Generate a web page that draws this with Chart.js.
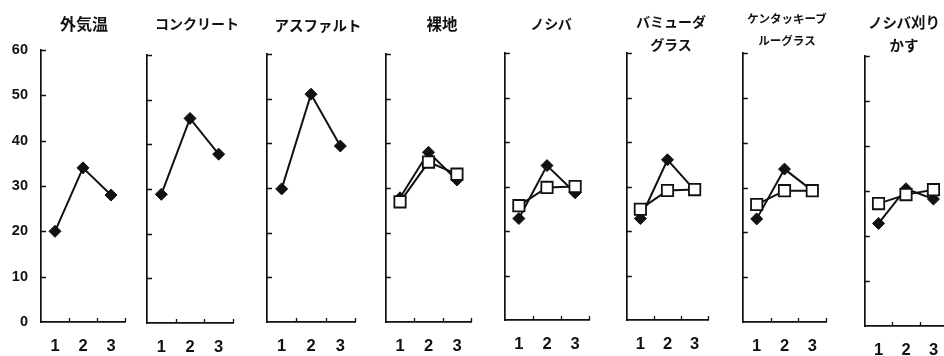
<!DOCTYPE html>
<html>
<head>
<meta charset="utf-8">
<script src="https://cdn.jsdelivr.net/npm/chart.js@4"></script>
<style>
  html, body { margin: 0; padding: 0; background: #fff; }
  body { position: relative; width: 944px; height: 356px; overflow: hidden;
         font-family: "Noto Sans CJK JP", "Noto Sans", sans-serif; }
  canvas { position: absolute; top: 0; }
  .ttl { position: absolute; transform: translateX(-50%); white-space: nowrap;
         font-weight: bold; color: #111; text-align: center; }
</style>
</head>
<body>
<script>
// x categories and y tick values shared by every panel
const categories = ['1', '2', '3'];
const yTicks = [0, 10, 20, 30, 40, 50, 60];

// panel headings (one entry per small chart, split into lines)
const panelTitles = [
  ['外気温'],
  ['コンクリート'],
  ['アスファルト'],
  ['裸地'],
  ['ノシバ'],
  ['バミューダ', 'グラス'],
  ['ケンタッキーブ', 'ルーグラス'],
  ['ノシバ刈り', 'かす']
];

// filled-diamond series, one row per panel
const diamondSeries = [
  [20.0, 34.0, 28.0],
  [28.8, 45.8, 37.8],
  [29.8, 51.0, 39.4],
  [27.8, 38.0, 31.8],
  [22.8, 34.7, 28.6],
  [22.8, 36.0, 29.2],
  [23.0, 34.1, 29.3],
  [22.8, 30.5, 28.2]
];

// open-square series (absent in the first three panels)
const squareSeries = [
  null,
  null,
  null,
  [26.9, 35.8, 33.1],
  [25.7, 29.8, 30.0],
  [24.9, 29.1, 29.3],
  [26.2, 29.3, 29.3],
  [27.2, 29.2, 30.3]
];

// plot box of each panel in page pixels: [left, right, top, bottom]
const plotBoxes = [
  [41, 126, 50, 322],
  [146, 234, 55, 323],
  [266, 356, 54, 322],
  [382, 475, 54, 322],
  [501, 593, 53, 320],
  [623, 712, 53, 320],
  [739, 830, 53, 322],
  [861, 951, 56, 326]
];

// heading placement: [centre x, centre y of first line, font px, line height]
const titleStyles = [
  [84, 23, 16, 22],
  [197, 23, 14, 22],
  [318, 25, 14.5, 22],
  [442, 23, 15.5, 22],
  [551, 23, 14, 22],
  [671, 21, 14, 23],
  [787, 18, 11.5, 22],
  [904, 21, 14.5, 23]
];

const INK = '#111';
const PAGE_H = 356;

// short inward tick marks on both axes
const innerTicks = {
  id: 'innerTicks',
  afterDraw(chart) {
    const { ctx, chartArea: a, scales: { x, y } } = chart;
    ctx.save();
    ctx.strokeStyle = INK;
    ctx.lineWidth = 1.3;
    ctx.beginPath();
    yTicks.slice(1).forEach(v => {
      const py = Math.round(y.getPixelForValue(v)) + 0.5;
      ctx.moveTo(a.left, py);
      ctx.lineTo(a.left + 5, py);
    });
    for (let i = 1; i <= categories.length; i++) {
      const px = Math.round(x.getPixelForValue(i - 0.5)) + 0.5;
      ctx.moveTo(px, a.bottom);
      ctx.lineTo(px, a.bottom - 4);
    }
    ctx.stroke();
    ctx.restore();
  }
};

plotBoxes.forEach((box, idx) => {
  const [left, right, top, bottom] = box;
  const showY = idx === 0;
  const padL = showY ? 41 : 6;
  const padR = 6;
  const width = padL + (right - left) + padR;

  const canvas = document.createElement('canvas');
  canvas.width = width;
  canvas.height = PAGE_H;
  canvas.style.left = (left - padL) + 'px';
  canvas.style.width = width + 'px';
  canvas.style.height = PAGE_H + 'px';
  document.body.appendChild(canvas);

  const datasets = [{
    data: diamondSeries[idx],
    borderColor: INK,
    borderWidth: 2,
    pointStyle: 'rectRot',
    pointRadius: 6,
    pointBackgroundColor: INK,
    pointBorderColor: INK,
    pointBorderWidth: 1,
    tension: 0,
    order: 1
  }];
  if (squareSeries[idx]) {
    datasets.push({
      data: squareSeries[idx],
      borderColor: INK,
      borderWidth: 2,
      pointStyle: 'rect',
      pointRadius: 8,
      pointBackgroundColor: '#fff',
      pointBorderColor: INK,
      pointBorderWidth: 1.8,
      tension: 0,
      order: 0
    });
  }

  new Chart(canvas, {
    type: 'line',
    data: { labels: categories, datasets },
    options: {
      responsive: false,
      animation: false,
      events: [],
      clip: false,
      layout: { padding: { left: 0, right: padR, top: top, bottom: 0 } },
      plugins: { legend: { display: false }, tooltip: { enabled: false }, title: { display: false } },
      scales: {
        x: {
          type: 'category',
          offset: true,
          grid: { display: true, drawOnChartArea: false, drawTicks: false },
          border: { display: true, color: INK, width: 1.7 },
          ticks: {
            color: INK, padding: 15, maxRotation: 0, autoSkip: false,
            font: { family: 'Liberation Sans', weight: 'bold', size: 16.5 }
          },
          afterFit(s) { s.height = PAGE_H - bottom; }
        },
        y: {
          min: 0, max: 60,
          grid: { display: true, drawOnChartArea: false, drawTicks: false },
          border: { display: true, color: INK, width: 1.7 },
          ticks: {
            display: showY, stepSize: 10, color: INK, padding: 13,
            font: { family: 'Liberation Sans', weight: 'bold', size: 14.5 }
          },
          afterFit(s) { s.width = padL; }
        }
      }
    },
    plugins: [innerTicks]
  });

  // heading above the panel
  const [cx, cy, fs, lh] = titleStyles[idx];
  const t = document.createElement('div');
  t.className = 'ttl';
  t.style.left = cx + 'px';
  t.style.top = (cy - lh / 2) + 'px';
  t.style.fontSize = fs + 'px';
  t.style.lineHeight = lh + 'px';
  t.innerHTML = panelTitles[idx].join('<br>');
  document.body.appendChild(t);
});
</script>
</body>
</html>
